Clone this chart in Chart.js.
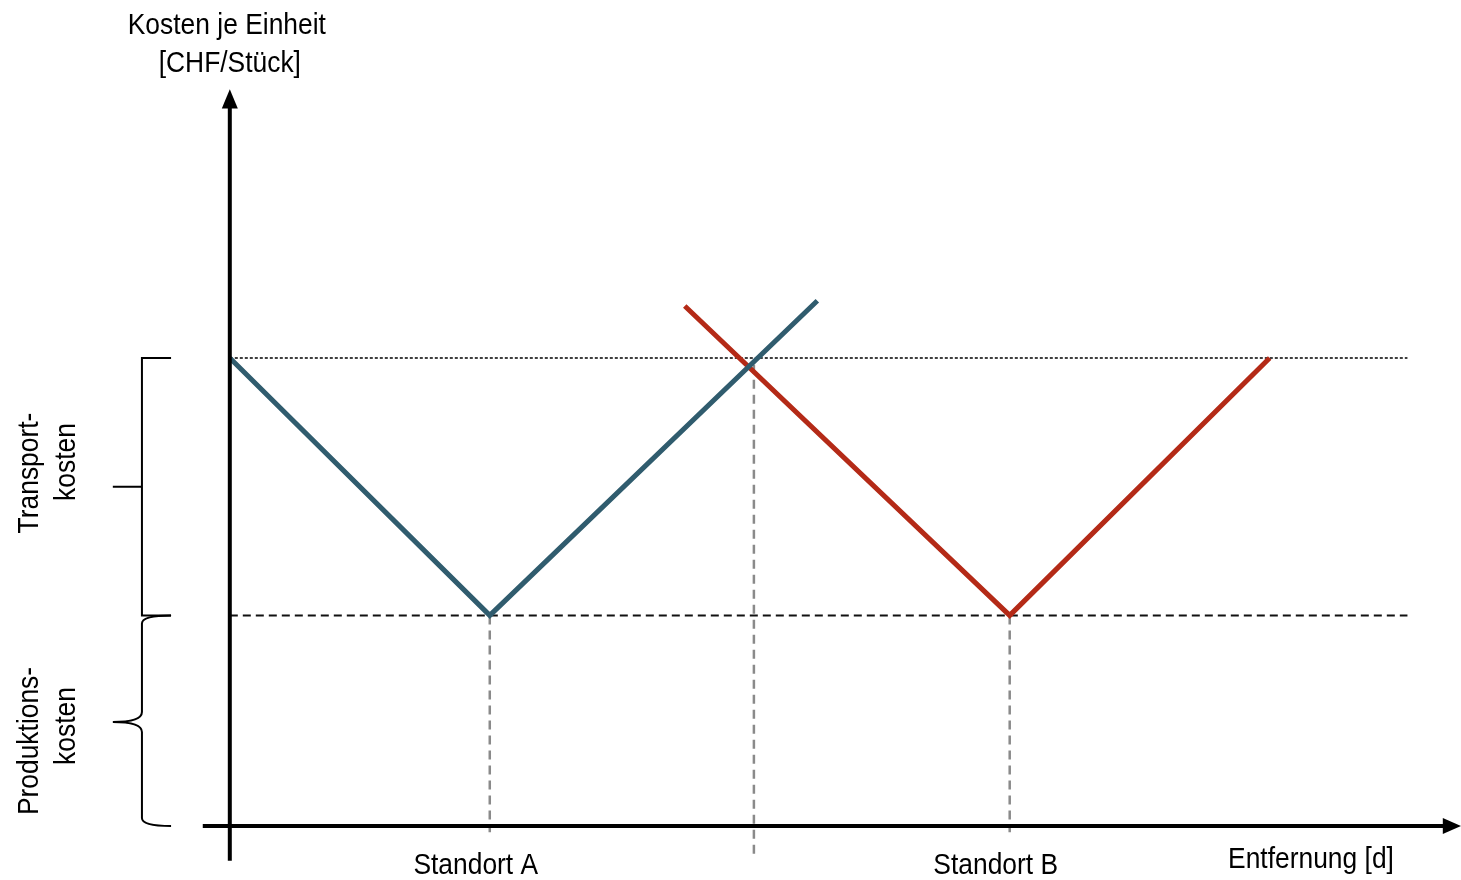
<!DOCTYPE html>
<html>
<head>
<meta charset="utf-8">
<script src="https://cdn.jsdelivr.net/npm/chart.js@4.4.1/dist/chart.umd.min.js"></script>
<style>
  body { margin: 0; background: #ffffff; }
  #chart { display: block; }
</style>
</head>
<body>
<canvas id="chart" width="1461" height="880"></canvas>
<script>
// Standortwahl: Produktions- + Transportkosten je Einheit
var blueX = [0, 5, 11.3];        // Standort A
var blueY = [9.0, 4.05, 10.1];
var redX = [8.75, 15, 20];       // Standort B
var redY = [10.0, 4.05, 9.0];

var produktionsKosten = 4.05;    // untere Hilfslinie
var gesamtKosten = 9.0;          // obere Hilfslinie
var standortX = [5, 15];         // Standort A, Standort B
var grenzeX = 10.08;             // Schnittpunkt der Kurven
var grenzeY = 8.87;
var standortLabels = ['Standort A', 'Standort B'];

var FONT = '"Liberation Sans", Arial, sans-serif';
var NARROW = 0.88; // Liberation Sans squeezed to look like Arial Narrow

function pts(xs, ys) {
  return xs.map(function (x, i) { return { x: x, y: ys[i] }; });
}

// arrows, braces and the text labels
var decoPlugin = {
  id: 'deco',
  afterDatasetsDraw: function (chart) {
    var ctx = chart.ctx;
    var sx = chart.scales.x, sy = chart.scales.y;
    var x0 = sx.getPixelForValue(0), y0 = sy.getPixelForValue(0);
    ctx.save();

    // arrow heads
    ctx.fillStyle = '#000';
    ctx.beginPath();
    ctx.moveTo(x0, sy.getPixelForValue(14.17));
    ctx.lineTo(x0 - 8, sy.getPixelForValue(13.8));
    ctx.lineTo(x0 + 8, sy.getPixelForValue(13.8));
    ctx.closePath();
    ctx.fill();
    ctx.beginPath();
    ctx.moveTo(sx.getPixelForValue(23.68), y0);
    ctx.lineTo(sx.getPixelForValue(23.33), y0 - 8);
    ctx.lineTo(sx.getPixelForValue(23.33), y0 + 8);
    ctx.closePath();
    ctx.fill();

    // braces
    var bx = sx.getPixelForValue(-1.69);
    var ex = sx.getPixelForValue(-1.13);
    var tx = sx.getPixelForValue(-2.25);
    var yTop = sy.getPixelForValue(gesamtKosten);
    var yMid = sy.getPixelForValue(produktionsKosten);
    var yBot = sy.getPixelForValue(0);
    ctx.strokeStyle = '#000';
    ctx.lineWidth = 2;
    ctx.beginPath();
    ctx.moveTo(ex, yTop);
    ctx.lineTo(bx, yTop);
    ctx.lineTo(bx, yMid);
    ctx.lineTo(ex, yMid);
    ctx.moveTo(bx, (yTop + yMid) / 2);
    ctx.lineTo(tx, (yTop + yMid) / 2);
    ctx.stroke();

    var ym = sy.getPixelForValue(2);
    ctx.beginPath();
    ctx.moveTo(ex, yMid);
    ctx.quadraticCurveTo(bx, yMid, bx, yMid + 8);
    ctx.lineTo(bx, ym - 10);
    ctx.quadraticCurveTo(bx, ym, tx, ym);
    ctx.quadraticCurveTo(bx, ym, bx, ym + 10);
    ctx.lineTo(bx, yBot - 8);
    ctx.quadraticCurveTo(bx, yBot, ex, yBot);
    ctx.stroke();

    // texts
    ctx.fillStyle = '#000';
    ctx.font = '30px ' + FONT;
    function text(t, cx, cy, rot) {
      ctx.save();
      ctx.translate(cx, cy);
      if (rot) ctx.rotate(-Math.PI / 2);
      ctx.scale(NARROW, 1);
      ctx.textAlign = 'center';
      ctx.textBaseline = rot ? 'middle' : 'alphabetic';
      ctx.fillText(t, 0, 0);
      ctx.restore();
    }
    text('Kosten je Einheit', x0 - 3, 34);
    text('[CHF/Stück]', x0, 72);
    standortX.forEach(function (v, i) {
      text(standortLabels[i], sx.getPixelForValue(v) - 14, 874);
    });
    text('Entfernung [d]', 1311, 868);
    text('Transport-', 30, 473, true);
    text('kosten', 67, 462, true);
    text('Produktions-', 30, 741, true);
    text('kosten', 67, 726, true);

    ctx.restore();
  }
};

new Chart(document.getElementById('chart').getContext('2d'), {
  type: 'line',
  data: {
    datasets: [
      { // Standort A
        data: pts(blueX, blueY),
        borderColor: '#305c6e', borderWidth: 5, order: 1
      },
      { // Standort B
        data: pts(redX, redY),
        borderColor: '#b42a17', borderWidth: 5, order: 1
      },
      { // y-Achse
        data: [{ x: 0, y: -0.67 }, { x: 0, y: 13.9 }],
        borderColor: '#000', borderWidth: 4, order: 0
      },
      { // x-Achse
        data: [{ x: -0.52, y: 0 }, { x: 23.45, y: 0 }],
        borderColor: '#000', borderWidth: 4, order: 0
      },
      { // obere Hilfslinie
        data: [{ x: 0, y: gesamtKosten }, { x: 22.65, y: gesamtKosten }],
        borderColor: '#000', borderWidth: 1.3, borderDash: [3, 2], order: 3
      },
      { // untere Hilfslinie
        data: [{ x: 0, y: produktionsKosten }, { x: 22.65, y: produktionsKosten }],
        borderColor: '#111', borderWidth: 2, borderDash: [8, 5], order: 3
      },
      { // Standort A senkrecht
        data: [{ x: standortX[0], y: produktionsKosten }, { x: standortX[0], y: -0.12 }],
        borderColor: '#8a8a8a', borderWidth: 2.5, borderDash: [9, 6], order: 2
      },
      { // Standort B senkrecht
        data: [{ x: standortX[1], y: produktionsKosten }, { x: standortX[1], y: -0.12 }],
        borderColor: '#8a8a8a', borderWidth: 2.5, borderDash: [9, 6], order: 2
      },
      { // Grenze
        data: [{ x: grenzeX, y: grenzeY }, { x: grenzeX, y: -0.56 }],
        borderColor: '#8a8a8a', borderWidth: 2.5, borderDash: [9, 6], order: 2
      }
    ]
  },
  options: {
    responsive: false,
    animation: false,
    layout: { padding: { left: 0, right: 0, top: 46, bottom: 2 } },
    elements: {
      point: { radius: 0, hoverRadius: 0 },
      line: { tension: 0, fill: false, borderCapStyle: 'butt' }
    },
    scales: {
      x: { type: 'linear', min: -4.42, max: 23.68, display: false },
      y: { type: 'linear', min: -1, max: 15, display: false }
    },
    plugins: {
      legend: { display: false },
      tooltip: { enabled: false }
    }
  },
  plugins: [decoPlugin]
});
</script>
</body>
</html>
